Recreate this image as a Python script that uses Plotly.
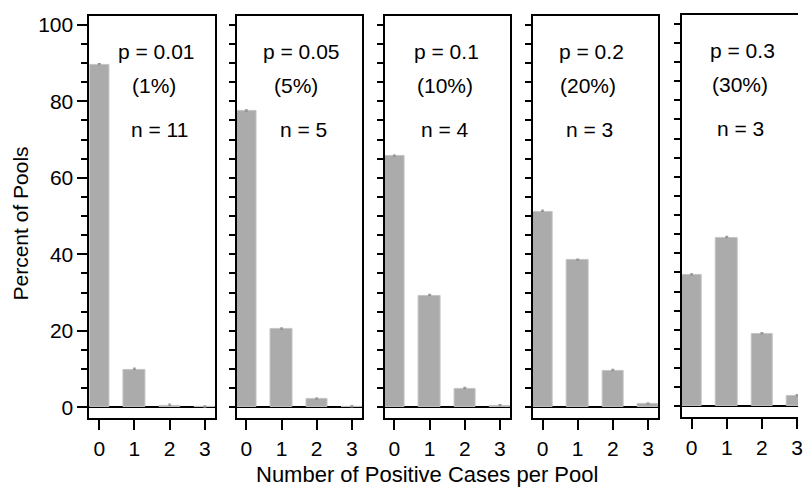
import plotly.graph_objects as go

W, H = 803, 488

categories = [0, 1, 2, 3]
tick_labels = ["0", "1", "2", "3"]
pct_p001 = [89.5, 9.9, 0.5, 0.03]
pct_p005 = [77.4, 20.4, 2.1, 0.1]
pct_p010 = [65.6, 29.2, 4.9, 0.4]
pct_p020 = [51.2, 38.4, 9.6, 0.8]
pct_p030 = [34.3, 44.1, 18.9, 2.7]
series = [pct_p001, pct_p005, pct_p010, pct_p020, pct_p030]
p_labels = ["p = 0.01", "p = 0.05", "p = 0.1", "p = 0.2", "p = 0.3"]
pct_labels = ["(1%)", "(5%)", "(10%)", "(20%)", "(30%)"]
n_labels = ["n = 11", "n = 5", "n = 4", "n = 3", "n = 3"]
y_tick_vals = [0, 20, 40, 60, 80, 100]
y_tick_text = ["0", "20", "40", "60", "80", "100"]
x_title = "Number of Positive Cases per Pool"
y_title = "Percent of Pools"

FONT = "Liberation Sans, Arial, Helvetica, sans-serif"
FS_TICK = 21
FS_LAB = 21
FS_TITLE = 21
BAR = "#ababab"

# panel pixel boxes (left, right) and (top, bottom)
px_x = [(90, 216), (238, 364), (387, 513), (536, 662), (686, 803)]
px_y = [(13, 418), (13, 418), (13, 418), (13, 418), (12, 417)]
ppu = 126 / 3.56  # pixels per x unit
x0 = -0.28
# label x positions (data units) per panel
lab_x_p = [1.61, 1.54, 1.47, 1.39, 1.46]
lab_x_pct = [1.56, 1.42, 1.43, 1.30, 1.39]
lab_x_n = [1.70, 1.62, 1.45, 1.34, 1.39]

fig = go.Figure()
annotations = []
for i, vals in enumerate(series):
    k = "" if i == 0 else str(i + 1)
    fig.add_trace(go.Bar(
        x=categories, y=vals, width=0.6,
        marker=dict(color=BAR, line=dict(color="#c4c4c4", width=1)),
        error_y=dict(type="data", array=[0.35] * 4, arrayminus=[0] * 4,
                     color="#8f8f8f", thickness=1, width=1.5),
        xaxis="x" + k, yaxis="y" + k, showlegend=False, hoverinfo="skip",
    ))
    l, r = px_x[i]
    t, b = px_y[i]
    xr = [x0, x0 + (r - l) / ppu]
    last = (i == 4)
    xa = dict(
        domain=[l / W, r / W], range=xr, anchor="y" + k,
        tickmode="array", tickvals=categories, ticktext=tick_labels,
        ticks="outside", ticklen=10, tickwidth=2, tickcolor="black",
        ticklabeloverflow="allow",
        showline=True, linecolor="black", linewidth=2, mirror=True,
        showgrid=False, zeroline=False, fixedrange=True,
        tickfont=dict(family=FONT, size=FS_TICK, color="black"),
    )
    ya = dict(
        domain=[1 - b / H, 1 - t / H], range=[-2.9, 102.3], anchor="x" + k,
        tickmode="array", tickvals=y_tick_vals,
        ticktext=y_tick_text if i == 0 else [""] * len(y_tick_vals),
        showticklabels=(i == 0),
        ticks="outside", ticklen=10, tickwidth=2, tickcolor="black",
        minor=dict(dtick=5, ticks="outside", ticklen=6, tickwidth=2,
                   tickcolor="black", showgrid=False),
        showline=True, linecolor="black", linewidth=2,
        mirror=(False if last else True),
        showgrid=False, zeroline=True, zerolinecolor="black", zerolinewidth=2,
        fixedrange=True,
        tickfont=dict(family=FONT, size=FS_TICK, color="black"),
    )
    fig.update_layout(**{"xaxis" + k: xa, "yaxis" + k: ya})
    for txt, xx, yy in [(p_labels[i], lab_x_p[i], 93.0),
                        (pct_labels[i], lab_x_pct[i], 84.2),
                        (n_labels[i], lab_x_n[i], 72.5)]:
        annotations.append(dict(
            text=txt, x=xx, y=yy, xref="x" + k, yref="y" + k,
            showarrow=False, xanchor="center", yanchor="middle",
            font=dict(family=FONT, size=FS_LAB, color="black"),
        ))

annotations.append(dict(
    text=x_title, x=430 / W, y=1 - 474 / H, xref="paper", yref="paper",
    showarrow=False, xanchor="center", yanchor="middle",
    font=dict(family=FONT, size=22, color="black"),
))
annotations.append(dict(
    text=y_title, x=21 / W, y=1 - 222 / H, xref="paper", yref="paper",
    showarrow=False, xanchor="center", yanchor="middle", textangle=-90,
    font=dict(family=FONT, size=FS_TITLE, color="black"),
))

fig.update_layout(
    width=W, height=H,
    margin=dict(l=0, r=0, t=0, b=0),
    paper_bgcolor="white", plot_bgcolor="white",
    bargap=0, annotations=annotations,
    font=dict(family=FONT, size=FS_TICK, color="black"),
)

fig.write_html("out.html",
               config={"displayModeBar": False},
               post_script="document.body.style.margin='0';"
                           "document.body.style.overflow='hidden';")
